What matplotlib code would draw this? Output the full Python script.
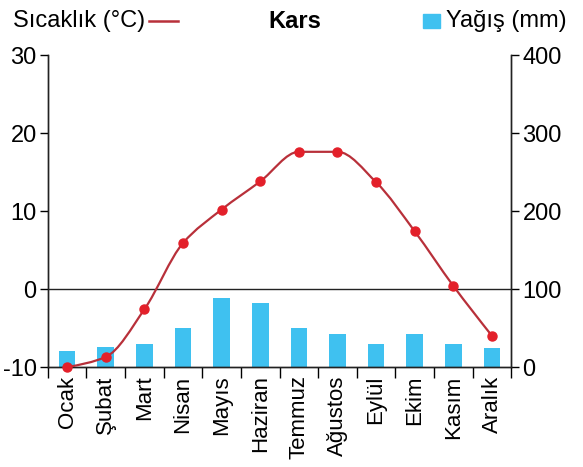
import numpy as np
import matplotlib.pyplot as plt
from matplotlib.path import Path
from matplotlib.patches import PathPatch, Rectangle
from matplotlib.lines import Line2D

plt.rcParams['font.family'] = ['Liberation Sans', 'DejaVu Sans']

months = ['Ocak', 'Şubat', 'Mart', 'Nisan', 'Mayıs', 'Haziran',
          'Temmuz', 'Ağustos', 'Eylül', 'Ekim', 'Kasım', 'Aralık']
temp = [-10.0, -8.7, -2.6, 5.9, 10.2, 13.8, 17.6, 17.6, 13.7, 7.4, 0.4, -6.0]
rain = [21, 26, 29, 50, 89, 82, 50, 42, 30, 42, 29, 24]
temp_ticks = [-10, 0, 10, 20, 30]
rain_ticks = [0, 100, 200, 300, 400]

line_col = '#b8303a'
dot_col = '#e3202a'
bar_col = '#3fc1f0'

fig = plt.figure(figsize=(5.83, 4.67), dpi=100)
ax = fig.add_axes([0.082, 0.214, 0.795, 0.668])
ax2 = ax.twinx()

x = np.arange(len(months))

# bars on the right axis
ax2.bar(x, rain, width=0.43, color=bar_col, zorder=1)
ax2.set_ylim(0, 400)
ax2.set_yticks(rain_ticks)

# smooth temperature curve: monotone cubic through the points, as bezier segments
xs = x.astype(float)
ys = np.array(temp, dtype=float)
d = np.diff(ys)
m = np.zeros(len(ys))
for i in range(1, len(ys) - 1):
    if d[i - 1] * d[i] > 0:
        m[i] = 2 / (1 / d[i - 1] + 1 / d[i])
m[0] = (3 * d[0] - m[1]) / 2
m[-1] = (3 * d[-1] - m[-2]) / 2
verts = [(xs[0], ys[0])]
codes = [Path.MOVETO]
for i in range(len(ys) - 1):
    verts += [(xs[i] + 1 / 3, ys[i] + m[i] / 3),
              (xs[i + 1] - 1 / 3, ys[i + 1] - m[i + 1] / 3),
              (xs[i + 1], ys[i + 1])]
    codes += [Path.CURVE4] * 3

ax.set_zorder(ax2.get_zorder() + 1)
ax.patch.set_visible(False)
ax.add_patch(PathPatch(Path(verts, codes), facecolor='none',
                       edgecolor=line_col, lw=1.6, zorder=3))
ax.plot(x, temp, 'o', color=dot_col, ms=6.5, zorder=4, clip_on=False)
ax.axhline(0, color='#222222', lw=1, zorder=2)

ax.set_ylim(-10, 30)
ax.set_xlim(-0.5, len(months) - 0.5)
ax.set_yticks(temp_ticks)
ax.set_yticklabels([str(t) for t in temp_ticks])

ax.set_xticks(x)
ax.set_xticklabels(months, rotation=90)
ax.set_xticks(np.arange(-0.5, len(months)), minor=True)
ax.tick_params(axis='x', which='major', length=0, pad=6, labelsize=16)
ax.tick_params(axis='x', which='minor', length=8, width=1, direction='out')
ax.tick_params(axis='y', length=6, width=1, labelsize=17, pad=2)
ax2.tick_params(axis='y', length=6, width=1, labelsize=17, pad=2)

for a in (ax, ax2):
    a.spines['top'].set_visible(False)
    for s in ('left', 'right', 'bottom'):
        a.spines[s].set_linewidth(1)
        a.spines[s].set_color('#222222')

# header legend
fig.text(0.022, 0.955, 'Sıcaklık (°C)', fontsize=17, va='center', ha='left')
fig.add_artist(Line2D([0.256, 0.305], [0.955, 0.955], color=line_col, lw=1.8,
                      transform=fig.transFigure))
fig.text(0.506, 0.955, 'Kars', fontsize=17, fontweight='bold',
         va='center', ha='center')
fig.add_artist(Rectangle((0.726, 0.940), 0.029, 0.029, color=bar_col,
                         transform=fig.transFigure))
fig.text(0.765, 0.955, 'Yağış (mm)', fontsize=17, va='center', ha='left')

fig.savefig('out.png', dpi=100)
